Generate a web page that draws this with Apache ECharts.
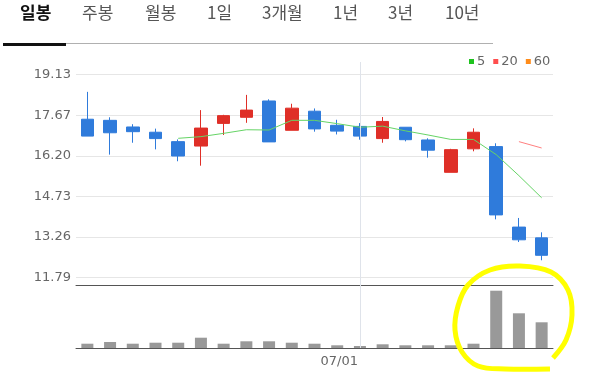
<!DOCTYPE html>
<html>
<head>
<meta charset="utf-8">
<script src="https://cdn.jsdelivr.net/npm/echarts@6/dist/echarts.min.js"></script>
<style>html,body{margin:0;padding:0;background:#fff}#c{width:589px;height:373px}</style>
</head>
<body>
<div id="c"></div>
<script>
const tabs = ['일봉','주봉','월봉','1일','3개월','1년','3년','10년'];
const dates = ['06/15','06/16','06/17','06/18','06/19','06/22','06/23','06/24','06/25','06/26','06/29','06/30','07/01','07/02','07/03','07/06','07/07','07/08','07/09','07/10','07/13'];
const opens  = [17.52,17.48,17.24,17.05,16.71,16.55,17.37,17.59,18.18,17.12,17.81,17.30,17.26,16.82,17.23,16.77,15.60,16.45,16.53,13.62,13.23];
const closes = [16.91,17.03,17.07,16.82,16.19,17.20,17.65,17.85,16.70,17.92,17.17,17.09,16.91,17.44,16.78,16.40,16.42,17.05,14.06,13.16,12.60];
const lows   = [16.91,16.24,16.67,16.43,16.00,15.84,16.95,17.39,16.70,17.12,17.07,16.97,16.78,16.67,16.72,16.13,15.60,16.36,13.90,13.08,12.42];
const highs  = [18.51,17.59,17.34,17.18,16.79,17.85,17.68,18.40,18.24,18.08,17.91,17.50,17.38,17.60,17.23,16.83,16.45,17.19,16.65,13.95,13.43];
const volumes = [430,600,430,530,530,1030,430,670,670,530,430,270,200,370,270,270,270,430,5730,3470,2570];
const ma5  = [null,null,null,null,16.83,16.89,17.01,17.14,17.13,17.48,17.48,17.36,17.23,17.27,17.10,16.95,16.79,16.79,16.24,15.48,14.68];
const ma20 = [null,null,null,null,null,null,null,null,null,null,null,null,null,null,null,null,null,null,null,16.71,16.48];
const ma60 = [];
const priceTicks = ['11.79','13.26','14.73','16.20','17.67','19.13'];
const markDate = '07/01';

const pMin = +priceTicks[0], pMax = +priceTicks[priceTicks.length-1];
const pInt = (pMax - pMin) / (priceTicks.length - 1);
const markIdx = dates.indexOf(markDate);
const candleData = dates.map((d,i)=>[opens[i],closes[i],lows[i],highs[i]]);

const tabX = [20,82,145,207,262,333,388,445];
const graphics = tabs.map((t,i)=>({
  type:'text', left: tabX[i], top: 4,
  style:{text:t, fill: i===0?'#111':'#555', font:(i===0?'bold ':'')+'17px "Noto Sans CJK KR", sans-serif'}
}));
graphics.push({type:'rect', shape:{x:66,y:43,width:427,height:1}, style:{fill:'#b0b0b0'}});
graphics.push({type:'rect', shape:{x:3,y:43,width:63,height:3}, style:{fill:'#111'}});
graphics.push({type:'polyline', z:100, shape:{smooth:0.35, points:[[553,358],[566,340],[572,315],[568,290],[551,272],[520,266],[490,270],[468,285],[458,306],[455,330],[462,352],[478,366],[505,369],[550,369]]}, style:{stroke:'#ffff00', lineWidth:5, fill:null}});

const chart = echarts.init(document.getElementById('c'));
chart.setOption({
  animation:false,
  backgroundColor:'#fff',
  textStyle:{fontFamily:'"DejaVu Sans", sans-serif'},
  graphic: graphics,
  legend:{
    data:['5','20','60'], left:464, top:50, icon:'rect', itemWidth:5, itemHeight:5, itemGap:8,
    textStyle:{color:'#666', fontSize:13, fontFamily:'"DejaVu Sans", sans-serif', padding:[0,0,0,-2]},
    selectedMode:false
  },
  grid:[
    {left:76, right:36, top:74.7, height:203},
    {left:76, right:36, top:285, height:63},
    {left:76, right:36, top:62, height:286}
  ],
  xAxis:[
    {type:'category', data:dates, gridIndex:0, boundaryGap:true, axisLine:{show:false}, axisTick:{show:false}, axisLabel:{show:false}, splitLine:{show:false}},
    {type:'category', data:dates, gridIndex:1, boundaryGap:true, position:'bottom',
      axisLine:{lineStyle:{color:'#555', width:1}},
      axisTick:{alignWithLabel:true, length:4, lineStyle:{color:'#888'}, interval:(i)=>i===markIdx},
      axisLabel:{interval:(i)=>i===markIdx, align:'right', color:'#666', fontSize:13, margin:7, padding:[0,2,0,0]},
      splitLine:{show:false}},
    {type:'category', data:dates, gridIndex:1, position:'top', axisLine:{lineStyle:{color:'#555', width:1}}, axisTick:{show:false}, axisLabel:{show:false}},
    {type:'category', data:dates, gridIndex:2, boundaryGap:true, axisLine:{show:false}, axisTick:{show:false}, axisLabel:{show:false}}
  ],
  yAxis:[
    {type:'value', gridIndex:0, min:pMin, max:pMax, interval:pInt,
      axisLine:{show:false}, axisTick:{show:false},
      axisLabel:{color:'#666', fontSize:13, margin:5, formatter:(v)=>priceTicks[Math.round((v-pMin)/pInt)]},
      splitLine:{lineStyle:{color:'#e6e6e6'}}},
    {type:'value', gridIndex:1, min:0, max:6300, show:false, splitLine:{show:false}},
    {type:'value', gridIndex:2, min:0, max:1, show:false, splitLine:{show:false}}
  ],
  series:[
    {type:'line', xAxisIndex:3, yAxisIndex:2, data:[null], z:0, silent:true,
      markLine:{silent:true, symbol:'none', label:{show:false}, lineStyle:{color:'#dfe3ea', type:'solid', width:1}, data:[{xAxis:markIdx}]}},
    {type:'candlestick', xAxisIndex:0, yAxisIndex:0, data:candleData, barWidth:13,
      itemStyle:{color:'#df2f27', color0:'#2f7bdb', borderColor:'#df2f27', borderColor0:'#2f7bdb', borderWidth:1}},
    {name:'5', type:'line', xAxisIndex:0, yAxisIndex:0, data:ma5, showSymbol:false, color:'#1ec31e', lineStyle:{color:'#66d466', width:1}},
    {name:'20', type:'line', xAxisIndex:0, yAxisIndex:0, data:ma20, showSymbol:false, color:'#ff4d4d', lineStyle:{color:'#ff8080', width:1}},
    {name:'60', type:'line', xAxisIndex:0, yAxisIndex:0, data:ma60, showSymbol:false, color:'#ff8c1a', lineStyle:{color:'#ff8c1a', width:1}},
    {type:'bar', xAxisIndex:1, yAxisIndex:1, data:volumes, barWidth:12, itemStyle:{color:'#999'}}
  ]
});
</script>
</body>
</html>
